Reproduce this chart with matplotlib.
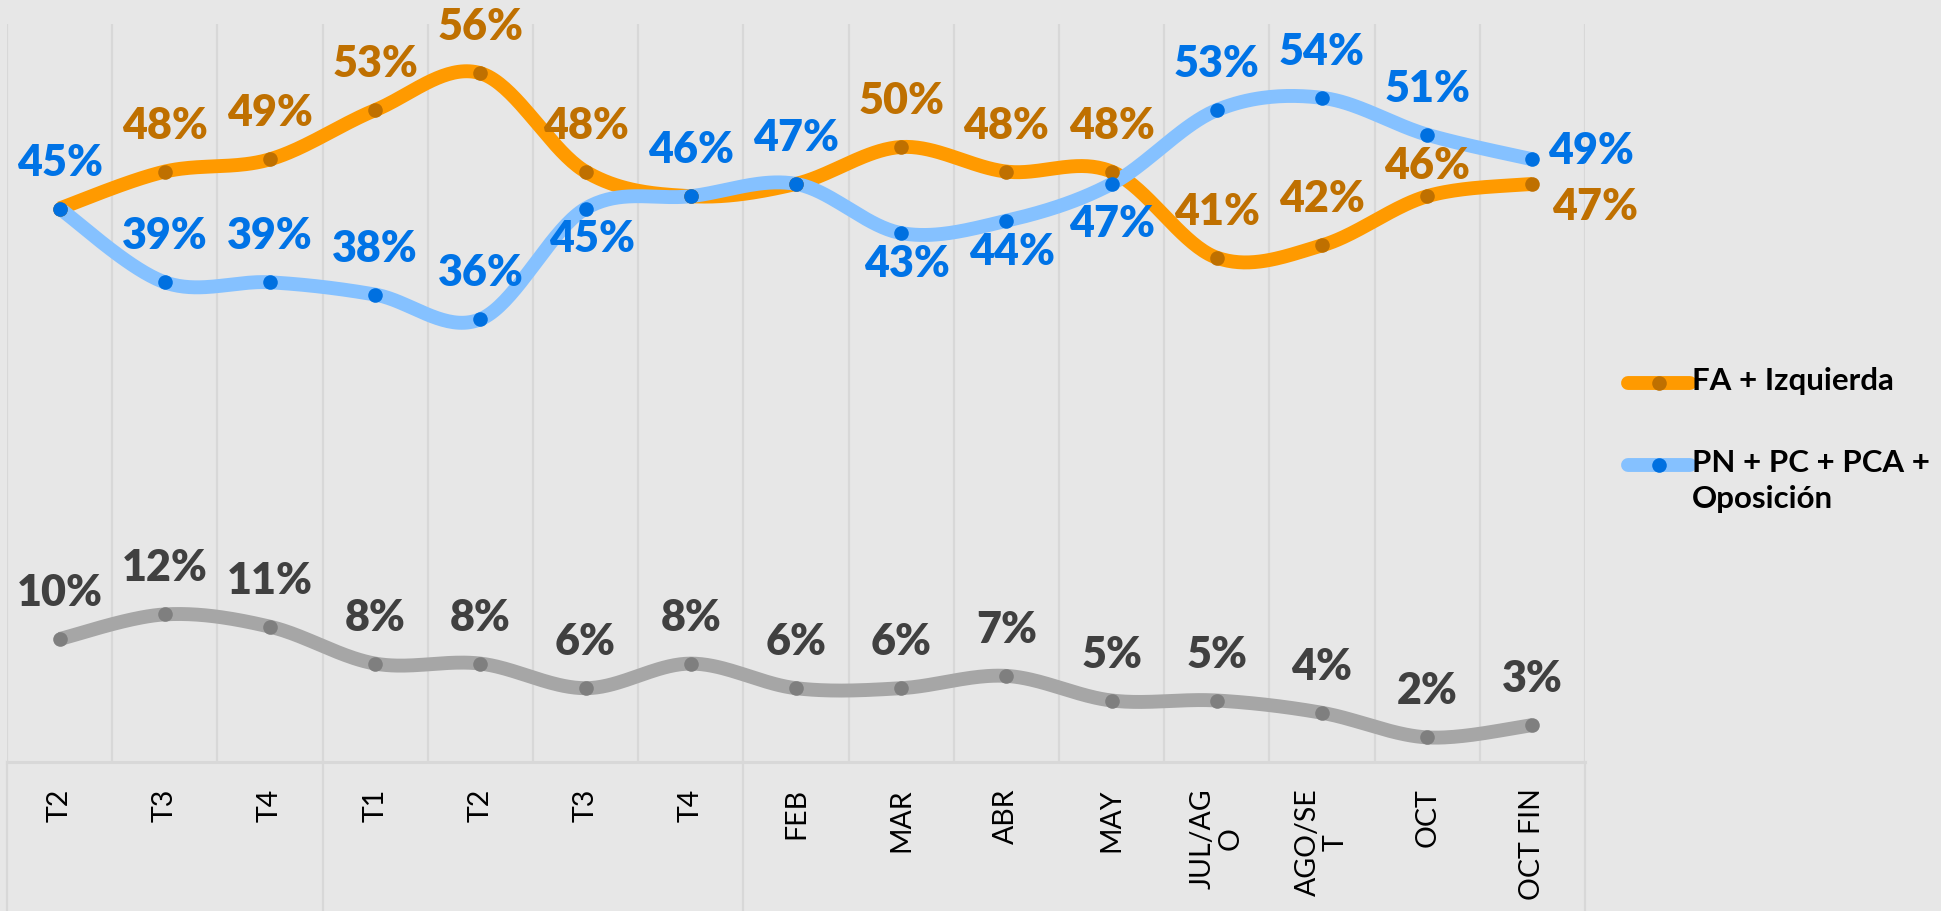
import numpy as np
import matplotlib
matplotlib.use("Agg")
import matplotlib.pyplot as plt
from matplotlib.lines import Line2D

categories = ["T2", "T3", "T4", "T1", "T2", "T3", "T4", "FEB", "MAR", "ABR",
              "MAY", "JUL/AG\nO", "AGO/SE\nT", "OCT", "OCT FIN"]
fa_izq = [45, 48, 49, 53, 56, 48, 46, 47, 50, 48, 48, 41, 42, 46, 47]
oposicion = [45, 39, 39, 38, 36, 45, 46, 47, 43, 44, 47, 53, 54, 51, 49]
otros = [10, 12, 11, 8, 8, 6, 8, 6, 6, 7, 5, 5, 4, 2, 3]
group_bounds = [0, 3, 7, 15]  # category index where groups start/end

# label placement codes: a=above, b=below, r=right-below, R=right-above, n=none
fa_pos = ["n", "a", "a", "a", "a", "a", "n", "n", "a", "a", "a", "a", "a", "o", "r"]
op_pos = ["a", "a", "a", "a", "a", "b", "a", "a", "b", "b", "m", "a", "a", "a", "R"]
ot_pos = ["a"] * 15

BG = "#E7E7E7"
GRID = "#D8D8D8"

def smooth(x, y, n=40):
    x = np.asarray(x, float); y = np.asarray(y, float)
    P = np.column_stack([x, y])
    m = len(P)
    out = []
    for i in range(m - 1):
        p0 = P[max(i - 1, 0)]; p1 = P[i]; p2 = P[i + 1]; p3 = P[min(i + 2, m - 1)]
        c1 = p1 + (p2 - p0) / 6.0
        c2 = p2 - (p3 - p1) / 6.0
        t = np.linspace(0, 1, n)[:, None]
        seg = ((1 - t) ** 3) * p1 + 3 * ((1 - t) ** 2) * t * c1 + 3 * (1 - t) * t ** 2 * c2 + t ** 3 * p2
        if i > 0:
            seg = seg[1:]
        out.append(seg)
    out = np.vstack(out)
    return out[:, 0], out[:, 1]

fig = plt.figure(figsize=(19.41, 9.11), dpi=100, facecolor=BG)
ax = fig.add_axes([7 / 1941, (911 - 762) / 911, (1585 - 7) / 1941, (762 - 24) / 911])
ax.set_facecolor(BG)
n = len(categories)
x = np.arange(n)
ax.set_xlim(-0.5, n - 0.5)
ax.set_ylim(0, 60)
for s in ax.spines.values():
    s.set_visible(False)
ax.set_yticks([])
for b in np.arange(n + 1) - 0.5:
    ax.axvline(b, color=GRID, lw=1.6, zorder=0)
ax.axhline(0, color=GRID, lw=2.2, zorder=0, clip_on=False)
for gb in group_bounds:
    ax.plot([gb - 0.5, gb - 0.5], [0, -0.3], transform=ax.get_xaxis_transform(),
            color=GRID, lw=1.6, clip_on=False, zorder=0)

ax.set_xticks(x)
ax.set_xticklabels(categories, rotation=90, fontsize=20.5, family="Lato",
                   va="top", ha="center", multialignment="center", linespacing=1.1)
ax.tick_params(axis="x", length=0, pad=19, colors="black")

series = [
    (fa_izq, "#FF9A00", "#BF7000", "#BF7000", fa_pos, "FA + Izquierda"),
    (oposicion, "#85C1FF", "#0070E0", "#0073E6", op_pos, "PN + PC + PCA +\nOposición"),
    (otros, "#A6A6A6", "#7F7F7F", "#404040", ot_pos, None),
]

for vals, lc, mc, tc, pos, name in series:
    sx, sy = smooth(x, vals)
    ax.plot(sx, sy, color=lc, lw=10, solid_capstyle="butt", zorder=2)
    ax.plot(x, vals, "o", color=mc, ms=10.5, mew=0, zorder=3)
    for xi, v, p in zip(x, vals, pos):
        if p == "n":
            continue
        if p == "a":
            off, ha = (0, 46), "center"
        elif p == "o":
            off, ha = (0, 30), "center"
        elif p == "b":
            off, ha = (6, -31), "center"
        elif p == "m":
            off, ha = (0, -40), "center"
        elif p == "r":
            off, ha = (20, -23), "left"
        else:
            off, ha = (16, 8), "left"
        ax.annotate(f"{v}%", (xi, v), xytext=off, textcoords="offset pixels",
                    ha=ha, va="center", fontsize=31, fontweight="heavy",
                    family="Lato", color=tc, zorder=4, annotation_clip=False)

# legend
leg = [(series[0], 383, 383), (series[1], 465, 465)]
for (vals, lc, mc, tc, pos, name), yl, yt in leg:
    yf = 1 - yl / 911
    fig.add_artist(Line2D([1628 / 1941, 1690 / 1941], [yf, yf], color=lc, lw=10,
                          solid_capstyle="round", transform=fig.transFigure))
    fig.add_artist(Line2D([1659 / 1941], [yf], marker="o", color=mc, ms=10.5, mew=0,
                          transform=fig.transFigure))
    fig.text(1692 / 1941, 1 - (yt - 16) / 911, name, ha="left", va="top",
             fontsize=22.5, fontweight="bold", family="Lato", color="black",
             linespacing=1.35)

fig.savefig("out.png", dpi=100, facecolor=BG)
